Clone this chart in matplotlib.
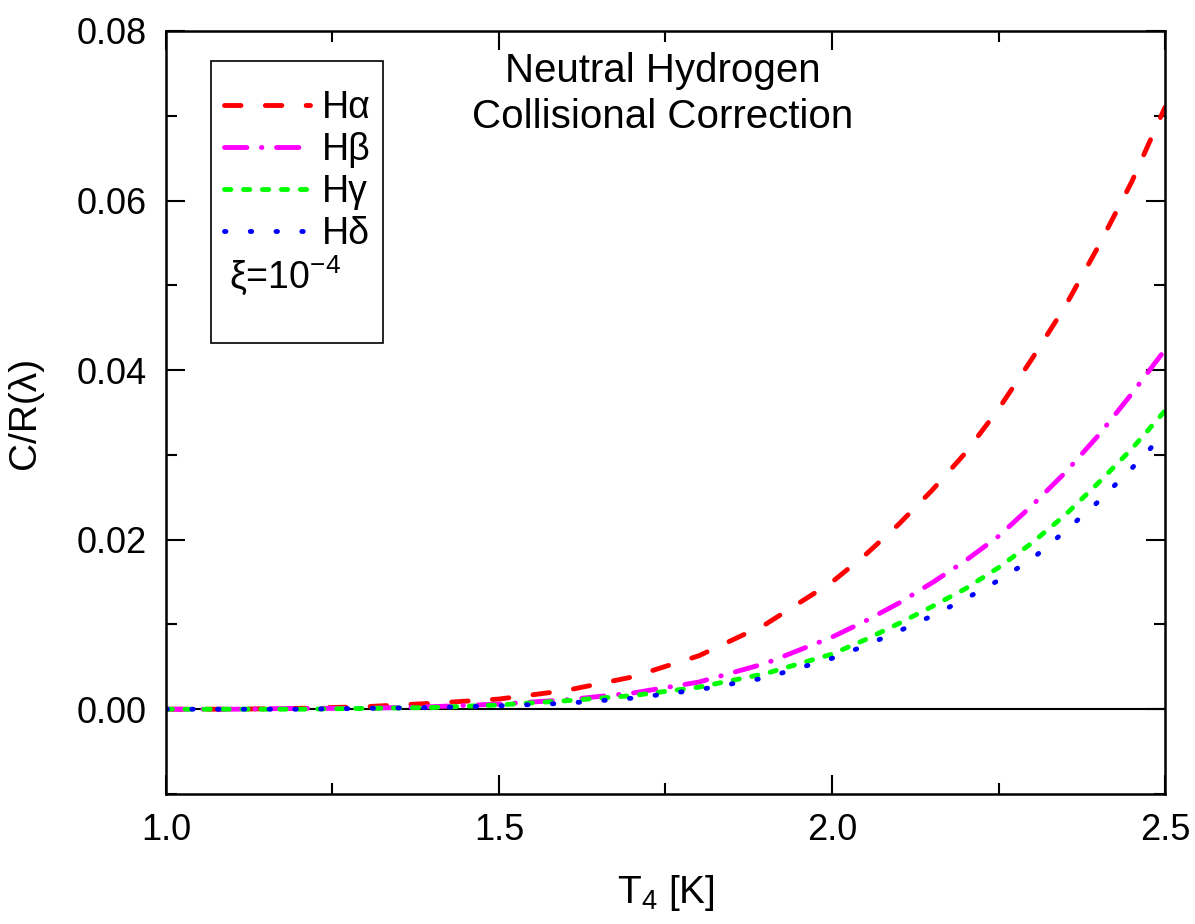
import matplotlib
matplotlib.use('Agg')
from matplotlib import pyplot as plt
from matplotlib.patches import Rectangle

plt.rcParams['font.family'] = ['Liberation Sans', 'DejaVu Sans']
plt.rcParams['mathtext.fontset'] = 'custom'
plt.rcParams['mathtext.rm'] = 'Liberation Sans'

# temperatura T4 e correcao colisional C/R para cada linha
T4 = [1.0, 1.1, 1.2, 1.3, 1.4, 1.5, 1.6, 1.7, 1.8, 1.9, 2.0,
      2.05, 2.1, 2.15, 2.2, 2.25, 2.3, 2.35, 2.4, 2.45, 2.5]
h_alpha = [0.0, 0.0, 0.0001, 0.0003, 0.0007, 0.0012, 0.0022, 0.0038, 0.0063, 0.0100, 0.0150,
           0.0182, 0.0218, 0.0258, 0.0302, 0.0354, 0.0413, 0.0475, 0.0546, 0.0622, 0.0710]
h_beta = [0.0, 0.0, 0.0001, 0.0001, 0.0003, 0.0006, 0.0011, 0.0019, 0.0032, 0.0054, 0.0085,
          0.0104, 0.0125, 0.0149, 0.0175, 0.0204, 0.0240, 0.0279, 0.0323, 0.0372, 0.0424]
h_gamma = [0.0, 0.0, 0.0, 0.0001, 0.0002, 0.0005, 0.0010, 0.0016, 0.0026, 0.0042, 0.0065,
           0.0082, 0.0101, 0.0121, 0.0142, 0.0167, 0.0196, 0.0229, 0.0267, 0.0307, 0.0352]
h_delta = [0.0, 0.0, 0.0, 0.0001, 0.0002, 0.0004, 0.0007, 0.0013, 0.0023, 0.0037, 0.0060,
           0.0075, 0.0092, 0.0110, 0.0130, 0.0152, 0.0177, 0.0210, 0.0245, 0.0284, 0.0326]

fig = plt.figure(figsize=(11.95, 9.24), dpi=100)
ax = fig.add_axes([0.1389, 0.1407, 0.836, 0.8258])

lw = 3.5
ax.axhline(0, color='black', lw=1.5, zorder=1)
l1, = ax.plot(T4, h_alpha, color='#ff0000', lw=lw, ls=(0, (3.4, 5.0)), label='Hα')
l2, = ax.plot(T4, h_beta, color='#ff00ff', lw=lw, ls=(0, (4.6, 3.0, 0.1, 3.0)), label='Hβ')
l3, = ax.plot(T4, h_gamma, color='#00ff00', lw=lw, ls=(0, (1.3, 2.6)), label='Hγ')
l4, = ax.plot(T4, h_delta, color='#0000ff', lw=lw, ls=(0, (0.3, 5.0)), label='Hδ')
for ln in (l1, l2, l3, l4):
    ln.set_dash_capstyle('round')

ax.set_xlim(1.0, 2.5)
ax.set_ylim(-0.01, 0.08)
ax.set_xticks([1.0, 1.5, 2.0, 2.5])
ax.set_xticks([1.25, 1.75, 2.25], minor=True)
ax.set_yticks([0.0, 0.02, 0.04, 0.06, 0.08])
ax.set_yticks([-0.01, 0.01, 0.03, 0.05, 0.07], minor=True)
ax.set_xticklabels(['1.0', '1.5', '2.0', '2.5'])
ax.set_yticklabels(['0.00', '0.02', '0.04', '0.06', '0.08'])
ax.tick_params(which='both', direction='in', top=True, right=True, width=1.5)
ax.tick_params(which='major', length=14, labelsize=26, pad=14)
ax.tick_params(which='minor', length=8)
for sp in ax.spines.values():
    sp.set_linewidth(1.8)

ax.set_xlabel('T$_{\\mathregular{4}}$ [K]', fontsize=28, labelpad=18)
ax.set_ylabel('C/R(λ)', fontsize=28, labelpad=24)

ax.text(0.497, 0.972, 'Neutral Hydrogen\nCollisional Correction', transform=ax.transAxes,
        ha='center', va='top', fontsize=29, linespacing=1.27)

ax.add_patch(Rectangle((0.045, 0.591), 0.172, 0.3697, transform=ax.transAxes,
                       fill=False, edgecolor='black', lw=1.2, zorder=5))
leg = ax.legend(handles=[l1, l2, l3, l4], loc='upper left', bbox_to_anchor=(0.058, 0.922),
                frameon=False, fontsize=27, handlelength=2.3, handletextpad=0.3,
                labelspacing=0.16, borderaxespad=0, borderpad=0)
ax.text(0.063, 0.68, 'ξ=10$^{\\mathregular{-4}}$', transform=ax.transAxes, fontsize=27,
        ha='left', va='center')

fig.savefig('out.png', dpi=100)
